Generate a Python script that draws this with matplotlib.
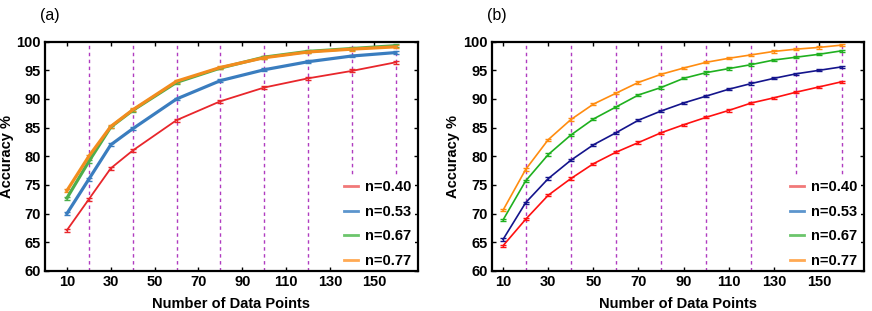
import matplotlib.pyplot as plt
from matplotlib.lines import Line2D

plt.rcParams['font.family'] = ['Liberation Sans', 'DejaVu Sans']

LABELS = ["n=0.40", "n=0.53", "n=0.67", "n=0.77"]

# panel (a)
x_a = [10, 20, 30, 40, 60, 80, 100, 120, 140, 160]
red_a = [67.1, 72.5, 77.9, 81.0, 86.3, 89.6, 92.0, 93.6, 94.9, 96.4]
blue_a = [70.0, 76.0, 82.0, 84.8, 90.0, 93.2, 95.1, 96.5, 97.5, 98.1]
green_a = [72.7, 79.1, 85.1, 88.0, 92.9, 95.4, 97.3, 98.3, 98.8, 99.3]
orange_a = [74.0, 80.0, 85.2, 88.1, 93.1, 95.5, 97.2, 98.2, 98.7, 99.1]

# panel (b)
x_b = [10, 20, 30, 40, 50, 60, 70, 80, 90, 100, 110, 120, 130, 140, 150, 160]
red_b = [64.4, 69.0, 73.2, 76.1, 78.7, 80.7, 82.4, 84.1, 85.5, 86.8, 88.0, 89.3, 90.2, 91.2, 92.1, 93.0]
blue_b = [65.5, 71.9, 76.1, 79.3, 82.0, 84.1, 86.3, 87.9, 89.3, 90.5, 91.7, 92.7, 93.6, 94.4, 95.0, 95.6]
green_b = [68.9, 75.7, 80.3, 83.7, 86.5, 88.6, 90.7, 92.0, 93.6, 94.6, 95.3, 96.0, 96.8, 97.3, 97.8, 98.4]
orange_b = [70.6, 77.7, 82.9, 86.4, 89.1, 91.0, 92.9, 94.3, 95.4, 96.4, 97.1, 97.7, 98.3, 98.7, 99.0, 99.4]

colors_a = ['#e8262b', '#3a7dbf', '#4cae4c', '#f28c1e']
colors_b = ['#ff1010', '#14148c', '#1fb01f', '#ff8c10']
legend_colors = ['#f06a6a', '#4a8ac8', '#5cbf5c', '#ffa040']
grid_color = '#b03cc0'

fig = plt.figure(figsize=(8.72, 3.11), dpi=100)
ax_a = fig.add_axes([0.0516, 0.129, 0.4274, 0.737])
ax_b = fig.add_axes([0.564, 0.129, 0.427, 0.737])


def style_axis(ax, xlim, tag):
    ax.set_xlim(*xlim)
    ax.set_ylim(60, 100)
    ax.set_xticks(range(10, 151, 20))
    ax.set_yticks(range(60, 101, 5))
    ax.set_xticks(range(20, 161, 20), minor=True)
    ax.set_yticks([70, 80, 90], minor=True)
    ax.grid(True, which='minor', color=grid_color, linestyle=(0, (2.5, 2.5)), linewidth=1.0)
    ax.tick_params(which='major', direction='in', length=3, width=1,
                   top=True, right=True, labelsize=10.5, pad=3)
    ax.tick_params(which='minor', length=0)
    for lbl in ax.get_xticklabels() + ax.get_yticklabels():
        lbl.set_fontweight('bold')
    for sp in ax.spines.values():
        sp.set_linewidth(1.6)
        sp.set_zorder(6)
    ax.set_xlabel('Number of Data Points', fontsize=10.5, fontweight='bold', labelpad=6)
    ax.set_ylabel('Accuracy %', fontsize=10.5, fontweight='bold', labelpad=2)
    ax.text(-0.013, 1.115, tag, transform=ax.transAxes, fontsize=11.5, va='center', ha='left')
    handles = [Line2D([], [], color=c, lw=2, alpha=0.9) for c in legend_colors]
    leg = ax.legend(handles, LABELS, loc='lower right', bbox_to_anchor=(1.012, -0.035),
                    frameon=True, framealpha=1, edgecolor='none', fancybox=False,
                    handlelength=0.95, handletextpad=0.5, labelspacing=0.72,
                    borderpad=0.25, prop={'weight': 'bold', 'size': 10.5})
    leg.get_frame().set_linewidth(0)


series_a = [red_a, blue_a, green_a, orange_a]
widths_a = [1.3, 2.3, 2.3, 2.3]
for vals, c, lw in zip(series_a, colors_a, widths_a):
    ax_a.errorbar(x_a, vals, yerr=0.25, color=c, lw=lw, elinewidth=1,
                  capsize=2, capthick=1)
style_axis(ax_a, (0, 170), '(a)')

series_b = [red_b, blue_b, green_b, orange_b]
for vals, c in zip(series_b, colors_b):
    ax_b.errorbar(x_b, vals, yerr=0.2, color=c, lw=1.2, elinewidth=1,
                  capsize=2.2, capthick=1)
style_axis(ax_b, (5, 170), '(b)')

fig.savefig('out.png', dpi=100)
